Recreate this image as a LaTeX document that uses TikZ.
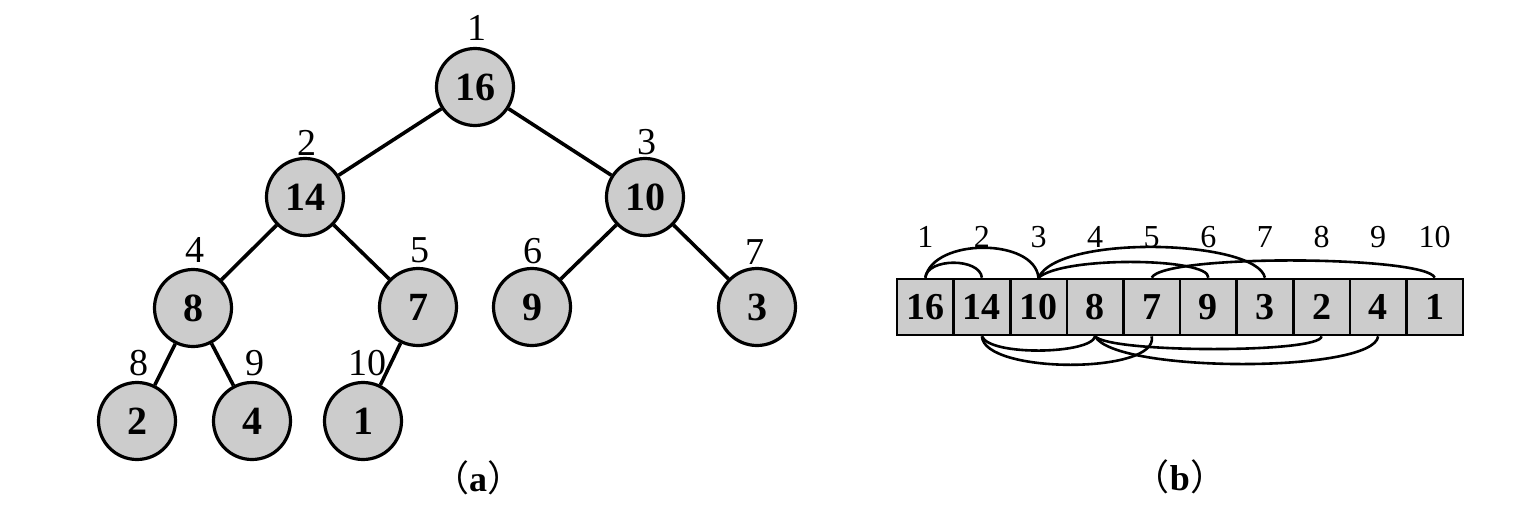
\documentclass[tikz,border=0pt]{standalone}
\usepackage{fontspec}
\setmainfont{Liberation Serif}
\newfontfamily\cjk{Noto Sans CJK SC}
\begin{document}
\begin{tikzpicture}[x=0.5pt,y=-0.5pt,
  tnode/.style={circle,draw,line width=1.6pt,fill=black!20,minimum size=38.5pt,inner sep=0pt,font=\fontsize{20}{20}\selectfont\bfseries},
  tlab/.style={font=\fontsize{19}{19}\selectfont,inner sep=0pt},
  edge/.style={line width=1.8pt},
  cell/.style={draw,line width=1.3pt,fill=black!20,minimum width=28.3pt,minimum height=28pt,inner sep=0pt,font=\fontsize{19}{19}\selectfont\bfseries},
  alab/.style={font=\fontsize{16}{16}\selectfont,inner sep=0pt},
  arcline/.style={line width=1.3pt},
  captxt/.style={inner sep=0pt,font=\fontsize{18}{18}\selectfont\bfseries}
]
\useasboundingbox (0,0) rectangle (1528,509);
% tree
\node[tnode] (t1) at (475,87) {16};
\node[tnode] (t2) at (305,197) {14};
\node[tnode] (t3) at (645,197) {10};
\node[tnode] (t4) at (193,308) {8};
\node[tnode] (t5) at (418,307) {7};
\node[tnode] (t6) at (532,307) {9};
\node[tnode] (t7) at (757,307) {3};
\node[tnode] (t8) at (137,421) {2};
\node[tnode] (t9) at (252,421) {4};
\node[tnode] (t10) at (363,421) {1};
\draw[edge] (t1) -- (t2);
\draw[edge] (t1) -- (t3);
\draw[edge] (t2) -- (t4);
\draw[edge] (t2) -- (t5);
\draw[edge] (t3) -- (t6);
\draw[edge] (t3) -- (t7);
\draw[edge] (t4) -- (t8);
\draw[edge] (t4) -- (t9);
\draw[edge] (t5) -- (t10);
\node[tlab] (l1) at (477,28) {1};
\node[tlab] (l2) at (307,143) {2};
\node[tlab] (l3) at (647,142) {3};
\node[tlab] (l4) at (195,250) {4};
\node[tlab] (l5) at (420,250) {5};
\node[tlab] (l6) at (533,251) {6};
\node[tlab] (l7) at (755,252) {7};
\node[tlab] (l8) at (139,363) {8};
\node[tlab] (l9) at (255,363) {9};
\node[tlab] (l10) at (367,363) {10};
\node[captxt] (capa) at (478,478) {{\cjk\mdseries （}a{\cjk\mdseries ）}};
% array
\foreach \v [count=\i] in {16,14,10,8,7,9,3,2,4,1} {
  \node[cell] (b\i) at ({897+56.6*(\i-0.5)},307) {\v};
  \node[alab] (a\i) at ({897+56.6*(\i-0.5)},237) {\i};
}
% top arcs
\draw[arcline] (b1.north) .. controls +(2,-20) and +(-2,-20) .. (b2.north);
\draw[arcline] (b1.north) .. controls +(8,-40) and +(-4,-40) .. (b3.north);
\draw[arcline] (b3.north) .. controls +(20,-44) and +(-8,-38) .. (b7.north);
\draw[arcline] (b3.north) .. controls +(25,-22) and +(2,-20) .. (b6.north);
\draw[arcline] (b5.north) .. controls +(12,-24) and +(-8,-22) .. (b10.north);
% bottom arcs
\draw[arcline] (b2.south) .. controls +(8,20) and +(-4,18) .. (b4.south);
\draw[arcline] (b2.south) .. controls +(2,38) and +(8,38) .. (b5.south);
\draw[arcline] (b4.south) .. controls +(15,17) and +(0,17) .. (b8.south);
\draw[arcline] (b4.south) .. controls +(20,37) and +(-4,37) .. (b9.south);
\node[captxt] (capb) at (1180,477) {{\cjk\mdseries （}b{\cjk\mdseries ）}};
\end{tikzpicture}
\end{document}
